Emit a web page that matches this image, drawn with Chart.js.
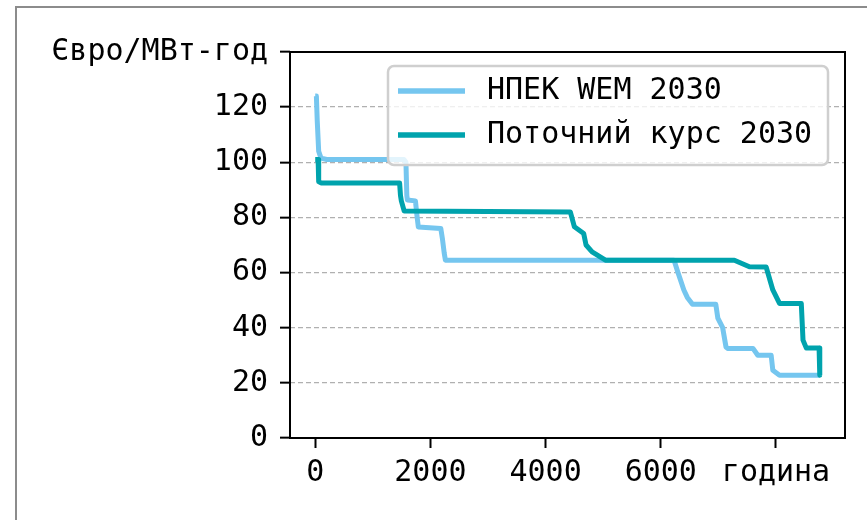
<!DOCTYPE html>
<html>
<head>
<meta charset="utf-8">
<script src="https://cdn.jsdelivr.net/npm/chart.js@4"></script>
<style>
  html, body { margin: 0; padding: 0; background: #fff; }
  #wrap { position: relative; width: 867px; height: 520px; overflow: hidden; }
  #frame { position: absolute; left: 15px; top: 6px; width: 900px; height: 600px;
           border-left: 2px solid #8c8c8c; border-top: 2px solid #8c8c8c; }
  #c { position: absolute; left: 0; top: 0; }
</style>
</head>
<body>
<div id="wrap">
  <div id="frame"></div>
  <canvas id="c" width="867" height="520"></canvas>
</div>
<script>
// Price duration curves, hours of the year sorted by price (EUR/MWh)
const wemLabel = 'НПЕК WEM 2030';
const wemHours  = [0, 20, 35, 60, 100, 200, 1540, 1575, 1590, 1600, 1740, 1770, 1790, 2180, 2210, 2240, 2260,
                   6230, 6295, 6400, 6460, 6550, 6955, 6990, 7074, 7132, 7160, 7600, 7684, 7916, 7945, 8061, 8760];
const wemPrices = [124, 124, 115, 104, 101.5, 101, 101, 100, 88, 86.3, 86, 80, 76.5, 76, 72, 67, 64.5,
                   64.5, 60.2, 53.7, 51, 48.5, 48.5, 43.5, 40, 33, 32.5, 32.5, 30, 30, 24.6, 22.8, 22.8];

const curLabel = 'Поточний курс 2030';
const curHours  = [0, 50, 60, 100, 1465, 1480, 1495, 1545, 4429, 4500, 4661, 4702, 4807, 5039,
                   7277, 7538, 7829, 7945, 8061, 8439, 8469, 8527, 8748, 8760];
const curPrices = [101, 101, 93, 92.5, 92.5, 88, 86, 82.3, 82, 76.6, 74.2, 70, 67.5, 64.5,
                   64.5, 62.1, 62, 53.7, 48.8, 48.8, 35.5, 32.6, 32.6, 22.8];

const xTickValues = [0, 2000, 4000, 6000, 8000];
const xTickLabels = ['0', '2000', '4000', '6000', 'година'];
const yTickValues = [0, 20, 40, 60, 80, 100, 120, 140];
const yTickLabels = ['0', '20', '40', '60', '80', '100', '120', 'Євро/МВт-год'];

const wemColor = '#75c6ef';
const curColor = '#00a3ad';
const FONT = { family: 'DejaVu Sans Mono', size: 30 };

const toPoints = (xs, ys) => xs.map((x, i) => ({ x: x, y: ys[i] }));

// Axes box and legend drawn on top of the plot
const framePlugin = {
  id: 'frameAndLegend',
  afterDraw(chart) {
    const { ctx, chartArea: a } = chart;
    ctx.save();
    ctx.strokeStyle = '#000';
    ctx.lineWidth = 2;
    ctx.strokeRect(a.left, a.top, a.right - a.left, a.bottom - a.top);

    // legend
    const bx = 388, by = 66, bw = 440, bh = 99, r = 6;
    ctx.beginPath();
    ctx.moveTo(bx + r, by);
    ctx.arcTo(bx + bw, by, bx + bw, by + bh, r);
    ctx.arcTo(bx + bw, by + bh, bx, by + bh, r);
    ctx.arcTo(bx, by + bh, bx, by, r);
    ctx.arcTo(bx, by, bx + bw, by, r);
    ctx.closePath();
    ctx.fillStyle = 'rgba(255,255,255,0.8)';
    ctx.fill();
    ctx.strokeStyle = '#cfcfcf';
    ctx.lineWidth = 2.5;
    ctx.stroke();

    const rows = [91, 135];
    chart.data.datasets.forEach((ds, i) => {
      const y = rows[i];
      ctx.strokeStyle = ds.borderColor;
      ctx.lineWidth = 5.5;
      ctx.lineCap = 'butt';
      ctx.beginPath();
      ctx.moveTo(398, y);
      ctx.lineTo(465, y);
      ctx.stroke();
      ctx.fillStyle = '#000';
      ctx.font = FONT.size + 'px "' + FONT.family + '"';
      ctx.textAlign = 'left';
      ctx.textBaseline = 'middle';
      ctx.fillText(ds.label, 487, y);
    });
    ctx.restore();
  }
};

new Chart(document.getElementById('c'), {
  type: 'line',
  data: {
    datasets: [
      { label: wemLabel, data: toPoints(wemHours, wemPrices), borderColor: wemColor,
        borderWidth: 5, pointRadius: 0, tension: 0, order: 1, borderJoinStyle: 'round' },
      { label: curLabel, data: toPoints(curHours, curPrices), borderColor: curColor,
        borderWidth: 5, pointRadius: 0, tension: 0, order: 0, borderJoinStyle: 'round' }
    ]
  },
  options: {
    responsive: false,
    animation: false,
    events: [],
    layout: { padding: { left: 0, right: 22, top: 52, bottom: 0 } },
    plugins: { legend: { display: false }, tooltip: { enabled: false } },
    scales: {
      x: {
        type: 'linear',
        min: -438,
        max: 9198,
        afterBuildTicks: s => { s.ticks = xTickValues.map(v => ({ value: v })); },
        afterFit: s => { s.height = 82; },
        border: { display: false },
        grid: { drawOnChartArea: false, drawTicks: true, tickLength: 10, tickWidth: 2, tickColor: '#000' },
        ticks: { autoSkip: false, maxRotation: 0, padding: 7, color: '#000', font: FONT,
                 callback: (v, i) => xTickLabels[i] }
      },
      y: {
        min: 0,
        max: 140,
        afterBuildTicks: s => { s.ticks = yTickValues.map(v => ({ value: v })); },
        afterFit: s => { s.width = 290; },
        border: { display: false, dash: [5, 3] },
        grid: { color: '#b0b0b0', lineWidth: 1.3, tickLength: 10, tickWidth: 2, tickColor: '#000', tickBorderDash: [] },
        ticks: { autoSkip: false, padding: 12, color: '#000', font: FONT,
                 callback: (v, i) => yTickLabels[i] }
      }
    }
  },
  plugins: [framePlugin]
});
</script>
</body>
</html>
